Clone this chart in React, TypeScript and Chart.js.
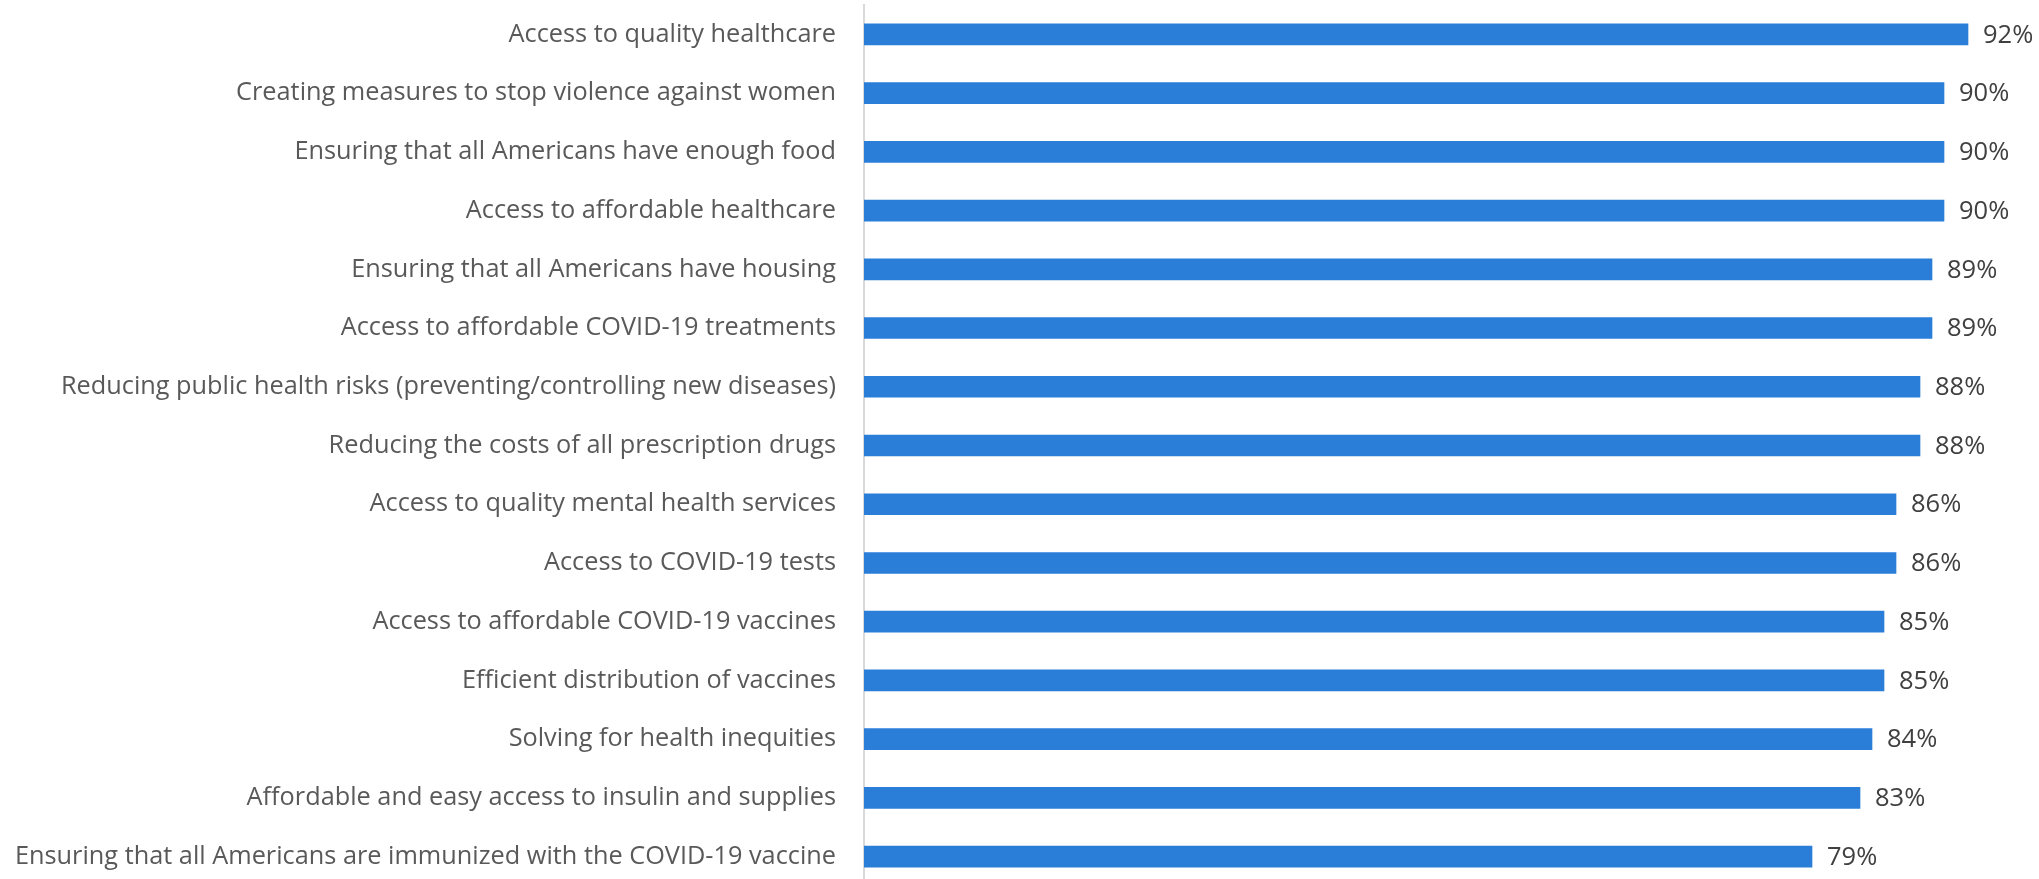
import React, { useEffect, useRef } from "react";
import { Chart, registerables } from "chart.js";

Chart.register(...registerables);

const categories: string[] = [
  "Access to quality healthcare",
  "Creating measures to stop violence against women",
  "Ensuring that all Americans have enough food",
  "Access to affordable healthcare",
  "Ensuring that all Americans have housing",
  "Access to affordable COVID-19 treatments",
  "Reducing public health risks (preventing/controlling new diseases)",
  "Reducing the costs of all prescription drugs",
  "Access to quality mental health services",
  "Access to COVID-19 tests",
  "Access to affordable COVID-19 vaccines",
  "Efficient distribution of vaccines",
  "Solving for health inequities",
  "Affordable and easy access to insulin and supplies",
  "Ensuring that all Americans are immunized with the COVID-19 vaccine",
];

const values: number[] = [92, 90, 90, 90, 89, 89, 88, 88, 86, 86, 85, 85, 84, 83, 79];

const FONT = "'Open Sans', 'Noto Sans', sans-serif";

const valueLabels = {
  id: "valueLabels",
  afterDatasetsDraw(chart: any) {
    const ctx = chart.ctx;
    const meta = chart.getDatasetMeta(0);
    ctx.save();
    ctx.font = `25.5px ${FONT}`;
    ctx.fillStyle = "#404040";
    ctx.textAlign = "left";
    ctx.textBaseline = "middle";
    meta.data.forEach((bar: any, i: number) => {
      ctx.fillText(`${values[i]}%`, bar.x + 15, bar.y + 1);
    });
    ctx.restore();
  },
};

export default function App() {
  const ref = useRef<HTMLCanvasElement | null>(null);
  useEffect(() => {
    if (!ref.current) return;
    const chart = new Chart(ref.current, {
      type: "bar",
      data: {
        labels: categories,
        datasets: [
          {
            data: values,
            backgroundColor: "#2A7ED8",
            borderWidth: 0,
            barThickness: 21,
          },
        ],
      },
      options: {
        indexAxis: "y",
        responsive: false,
        animation: false,
        devicePixelRatio: 1,
        layout: { padding: { top: 5, bottom: 4, left: 0, right: 5 } },
        plugins: {
          legend: { display: false },
          tooltip: { enabled: false },
        },
        scales: {
          x: { display: false, min: 0, max: 97.5 },
          y: {
            grid: { display: false },
            border: { display: true, color: "#d9d9d9", width: 2 },
            ticks: {
              color: "#595959",
              font: { size: 25.3, family: FONT },
              padding: 20,
              autoSkip: false,
            },
            afterFit(scale: any) {
              scale.width = 864;
              scale.paddingTop = 0;
              scale.paddingBottom = 0;
            },
          },
        },
      },
      plugins: [valueLabels],
    });
    return () => chart.destroy();
  }, []);
  return (
    <div
      style={{
        position: "fixed",
        left: 0,
        top: 0,
        width: 2039,
        height: 879,
        overflow: "hidden",
        background: "#fff",
      }}
    >
      <canvas ref={ref} width={2039} height={890} style={{ display: "block" }} />
    </div>
  );
}
